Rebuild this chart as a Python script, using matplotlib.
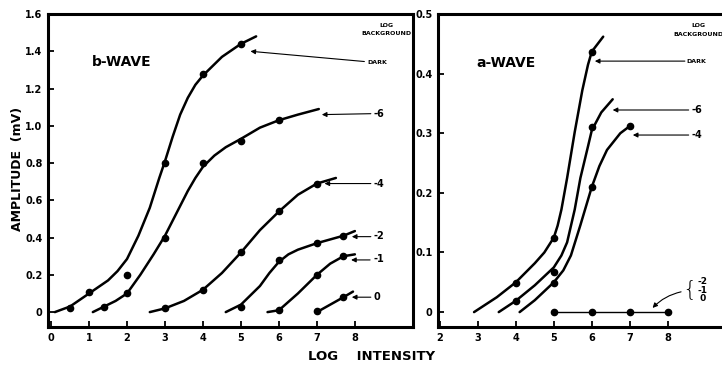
import matplotlib
matplotlib.use('Agg')
import matplotlib.pyplot as plt

# Datos: onda b (izquierda)
b_dark_x = [0.5, 1, 2, 3, 4, 5]
b_dark_y = [0.023, 0.107, 0.2, 0.8, 1.28, 1.44]
b_m6_x = [1.4, 2, 3, 4, 5, 6]
b_m6_y = [0.03, 0.1, 0.4, 0.8, 0.92, 1.03]
b_m4_x = [3, 4, 5, 6, 7]
b_m4_y = [0.02, 0.12, 0.32, 0.54, 0.69]
b_m2_x = [5, 6, 7, 7.7]
b_m2_y = [0.03, 0.28, 0.37, 0.41]
b_m1_x = [6, 7, 7.7]
b_m1_y = [0.01, 0.2, 0.3]
b_z0_x = [7, 7.7]
b_z0_y = [0.005, 0.08]

# Curvas trazadas a mano
bc_dark_x = [0.1, 0.5, 1.0, 1.5, 1.75, 2.0, 2.3, 2.6, 2.85, 3.0, 3.2, 3.4, 3.6, 3.8, 4.0, 4.5, 5.0, 5.4]
bc_dark_y = [0, 0.03, 0.1, 0.17, 0.22, 0.285, 0.41, 0.56, 0.72, 0.81, 0.94, 1.06, 1.15, 1.22, 1.27, 1.37, 1.44, 1.48]
bc_m6_x = [1.1, 1.4, 1.7, 2.0, 2.35, 2.7, 3.0, 3.3, 3.6, 3.8, 4.0, 4.3, 4.6, 5.0, 5.5, 6.0, 6.5, 7.05]
bc_m6_y = [0, 0.03, 0.06, 0.1, 0.2, 0.31, 0.41, 0.53, 0.65, 0.72, 0.78, 0.84, 0.885, 0.93, 0.99, 1.03, 1.06, 1.09]
bc_m4_x = [2.6, 3.0, 3.5, 4.0, 4.5, 5.0, 5.5, 6.0, 6.5, 7.0, 7.5]
bc_m4_y = [0, 0.02, 0.06, 0.12, 0.21, 0.32, 0.44, 0.54, 0.63, 0.69, 0.72]
bc_m2_x = [4.6, 5.0, 5.5, 5.75, 6.0, 6.25, 6.5, 7.0, 7.7, 8.0]
bc_m2_y = [0, 0.04, 0.14, 0.21, 0.27, 0.31, 0.335, 0.37, 0.41, 0.435]
bc_m1_x = [5.7, 6.0, 6.5, 7.0, 7.35, 7.7, 8.0]
bc_m1_y = [0, 0.01, 0.1, 0.2, 0.26, 0.3, 0.31]
bc_z0_x = [7.0, 7.35, 7.7, 7.95]
bc_z0_y = [0.0, 0.04, 0.08, 0.11]

# Onda a (derecha)
a_dark_x = [4, 5, 6]
a_dark_y = [0.049, 0.124, 0.437]
a_m6_x = [4, 5, 6]
a_m6_y = [0.018, 0.067, 0.311]
a_m4_x = [5, 6, 7]
a_m4_y = [0.048, 0.21, 0.312]
a_low_x = [5, 6, 7, 8]
a_low_y = [0, 0, 0, 0]

ac_dark_x = [2.9, 3.5, 4.0, 4.5, 4.75, 5.0, 5.1, 5.2, 5.35, 5.55, 5.75, 5.9, 6.0, 6.3]
ac_dark_y = [0, 0.025, 0.05, 0.082, 0.1, 0.125, 0.145, 0.172, 0.225, 0.302, 0.372, 0.415, 0.437, 0.462]
ac_m6_x = [3.55, 4.0, 4.5, 5.0, 5.2, 5.35, 5.55, 5.7, 5.9, 6.0, 6.25, 6.55]
ac_m6_y = [0, 0.019, 0.045, 0.075, 0.095, 0.117, 0.172, 0.225, 0.278, 0.305, 0.335, 0.357]
ac_m4_x = [4.1, 4.5, 5.0, 5.25, 5.45, 5.7, 6.0, 6.2, 6.4, 6.75, 7.0]
ac_m4_y = [0, 0.02, 0.05, 0.07, 0.095, 0.146, 0.21, 0.245, 0.272, 0.3, 0.312]

b_ticks = [0, 0.2, 0.4, 0.6, 0.8, 1.0, 1.2, 1.4, 1.6]
b_ticklabels = ['0', '0.2', '0.4', '0.6', '0.8', '1.0', '1.2', '1.4', '1.6']
a_ticks = [0, 0.1, 0.2, 0.3, 0.4, 0.5]
a_ticklabels = ['0', '0.1', '0.2', '0.3', '0.4', '0.5']

plt.rcParams['font.family'] = 'DejaVu Sans'
plt.rcParams['font.weight'] = 'bold'

fig = plt.figure(figsize=(7.22, 3.65), dpi=100)
ax1 = fig.add_axes([0.0665, 0.1041, 0.5055, 0.8575])
ax2 = fig.add_axes([0.6066, 0.1041, 0.403, 0.8575])


def estilo(ax):
    for s in ax.spines.values():
        s.set_linewidth(2.2)
    ax.tick_params(direction='in', length=4, width=1.3, labelsize=7, pad=4)
    for lab in ax.get_xticklabels() + ax.get_yticklabels():
        lab.set_fontweight('bold')


lw = 1.8
ms = 4.5
curvas_b = [(bc_dark_x, bc_dark_y), (bc_m6_x, bc_m6_y), (bc_m4_x, bc_m4_y),
            (bc_m2_x, bc_m2_y), (bc_m1_x, bc_m1_y), (bc_z0_x, bc_z0_y)]
puntos_b = [(b_dark_x, b_dark_y), (b_m6_x, b_m6_y), (b_m4_x, b_m4_y),
            (b_m2_x, b_m2_y), (b_m1_x, b_m1_y), (b_z0_x, b_z0_y)]
for cx, cy in curvas_b:
    ax1.plot(cx, cy, color='black', lw=lw, solid_capstyle='round', solid_joinstyle='round')
for px, py in puntos_b:
    ax1.plot(px, py, 'o', color='black', ms=ms)

ax1.set_xlim(-0.08, 9.53)
ax1.set_ylim(-0.08, 1.6)
ax1.set_xticks(range(0, 9))
ax1.set_yticks(b_ticks)
ax1.set_yticklabels(b_ticklabels)
estilo(ax1)

ax1.text(1.08, 1.344, 'b-WAVE', fontsize=10, fontweight='bold', va='center')
ax1.text(8.84, 1.54, 'LOG', fontsize=4.5, fontweight='bold', ha='center', va='center')
ax1.text(8.84, 1.495, 'BACKGROUND', fontsize=4.5, fontweight='bold', ha='center', va='center')

flecha = dict(arrowstyle='-|>', color='black', lw=0.8, mutation_scale=7, shrinkA=0, shrinkB=0)
etiquetas_b = [('DARK', 8.34, 1.34, 8.25, 1.345, 5.25, 1.40, 4.5),
               ('-6', 8.5, 1.065, 8.42, 1.065, 7.13, 1.06, 7),
               ('-4', 8.5, 0.69, 8.42, 0.69, 7.2, 0.69, 7),
               ('-2', 8.5, 0.41, 8.42, 0.405, 7.92, 0.405, 7),
               ('-1', 8.5, 0.285, 8.4, 0.28, 7.9, 0.28, 7),
               ('0', 8.5, 0.08, 8.42, 0.08, 7.92, 0.08, 7)]
for txt, tx, ty, x0, y0, x1, y1, fs in etiquetas_b:
    ax1.text(tx, ty, txt, fontsize=fs, fontweight='bold', va='center')
    ax1.annotate('', xy=(x1, y1), xytext=(x0, y0), arrowprops=flecha)

curvas_a = [(ac_dark_x, ac_dark_y), (ac_m6_x, ac_m6_y), (ac_m4_x, ac_m4_y)]
puntos_a = [(a_dark_x, a_dark_y), (a_m6_x, a_m6_y), (a_m4_x, a_m4_y)]
for cx, cy in curvas_a:
    ax2.plot(cx, cy, color='black', lw=lw, solid_capstyle='round', solid_joinstyle='round')
for px, py in puntos_a:
    ax2.plot(px, py, 'o', color='black', ms=ms)
ax2.plot(a_low_x, a_low_y, '-o', color='black', lw=1.0, ms=ms)

ax2.set_xlim(1.95, 9.61)
ax2.set_ylim(-0.025, 0.5)
ax2.set_xticks(range(2, 9))
ax2.set_yticks(a_ticks)
ax2.set_yticklabels(a_ticklabels)
estilo(ax2)

ax2.text(2.97, 0.418, 'a-WAVE', fontsize=10, fontweight='bold', va='center')
ax2.text(8.8, 0.48, 'LOG', fontsize=4.5, fontweight='bold', ha='center', va='center')
ax2.text(8.8, 0.465, 'BACKGROUND', fontsize=4.5, fontweight='bold', ha='center', va='center')

etiquetas_a = [('DARK', 8.5, 0.421, 8.45, 0.421, 6.08, 0.421, 4.5),
               ('-6', 8.63, 0.339, 8.55, 0.339, 6.55, 0.339, 7),
               ('-4', 8.63, 0.297, 8.55, 0.297, 7.08, 0.297, 7)]
for txt, tx, ty, x0, y0, x1, y1, fs in etiquetas_a:
    ax2.text(tx, ty, txt, fontsize=fs, fontweight='bold', va='center')
    ax2.annotate('', xy=(x1, y1), xytext=(x0, y0), arrowprops=flecha)

ax2.text(8.76, 0.038, '{', fontsize=16, fontweight='light', va='center', ha='right')
ax2.text(8.78, 0.037, '-2\n-1\n 0', fontsize=6.5, fontweight='bold', va='center', linespacing=0.95)
ax2.annotate('', xy=(7.6, 0.007), xytext=(8.35, 0.034),
             arrowprops=dict(arrowstyle='-|>', color='black', lw=0.8, mutation_scale=7,
                             shrinkA=0, shrinkB=0, connectionstyle='arc3,rad=0.15'))

fig.text(18 / 722, 1 - 169 / 365, 'AMPLITUDE  (mV)', rotation=90, fontsize=9,
         fontweight='bold', ha='center', va='center')
fig.text(372 / 722, 1 - 357 / 365, 'LOG    INTENSITY', fontsize=9.5,
         fontweight='bold', ha='center', va='center')

fig.savefig('out.png', dpi=100)
